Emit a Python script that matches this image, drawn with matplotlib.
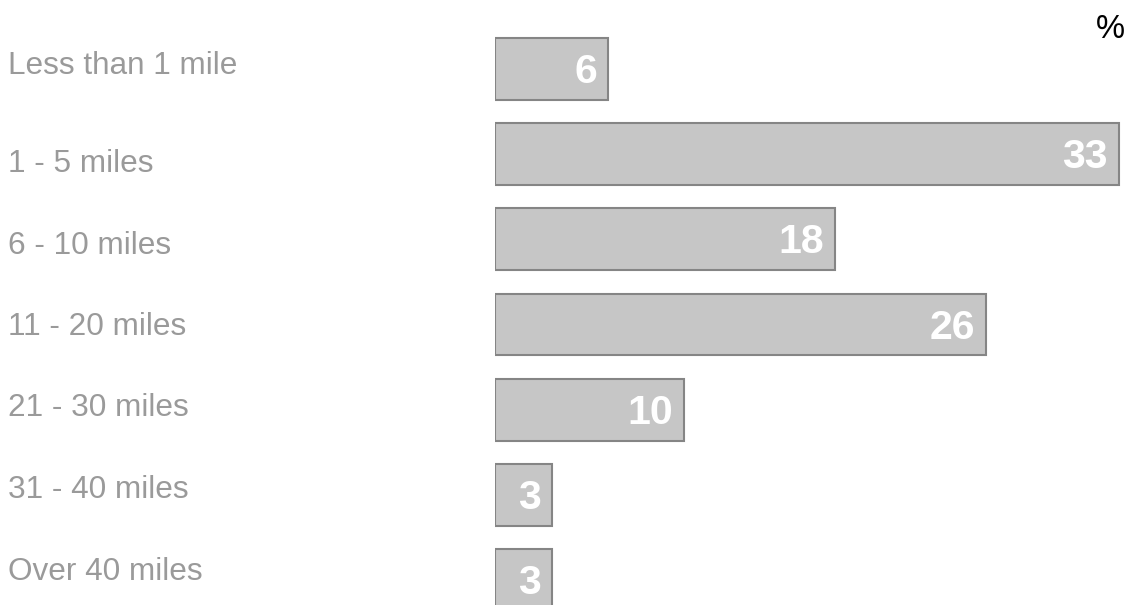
import matplotlib.pyplot as plt

categories = ["Less than 1 mile", "1 - 5 miles", "6 - 10 miles", "11 - 20 miles",
              "21 - 30 miles", "31 - 40 miles", "Over 40 miles"]
values = [6, 33, 18, 26, 10, 3, 3]

plt.rcParams['font.family'] = ['Liberation Sans', 'DejaVu Sans']

W, H = 1128, 605
fig = plt.figure(figsize=(W / 100, H / 100), dpi=100)
x0 = 495
ax = fig.add_axes([x0 / W, 0, 1 - x0 / W, 1])

px_per_unit = 18.9
spacing = 85.17
ax.set_xlim(0, (W - x0) / px_per_unit)
ax.set_ylim(6 + (605 - 580) / spacing, -69 / spacing)

ypos = list(range(len(categories)))
ax.barh(ypos, values, height=62 / spacing, color="#c6c6c6",
        edgecolor="#858585", linewidth=1.5)

# value labels, white bold inside the bar end
for y, v in zip(ypos, values):
    ax.annotate(str(v), (v, y), xytext=(-8, -10.2), textcoords="offset points",
                ha="right", va="baseline", color="white", fontsize=29.5,
                fontweight="bold")

# category labels (baselines in pixels from the top)
label_base = [73.5] + [172 + 81.5 * i for i in range(len(categories) - 1)]
for yb, c in zip(label_base, categories):
    fig.text(8 / W, 1 - yb / H, c, ha="left", va="baseline",
             color="#9a9a9a", fontsize=22.7)

fig.text(1110 / W, 1 - 38 / H, "%", ha="center", va="baseline",
         color="black", fontsize=23.5)

ax.axis("off")
fig.savefig("out.png", dpi=100)
